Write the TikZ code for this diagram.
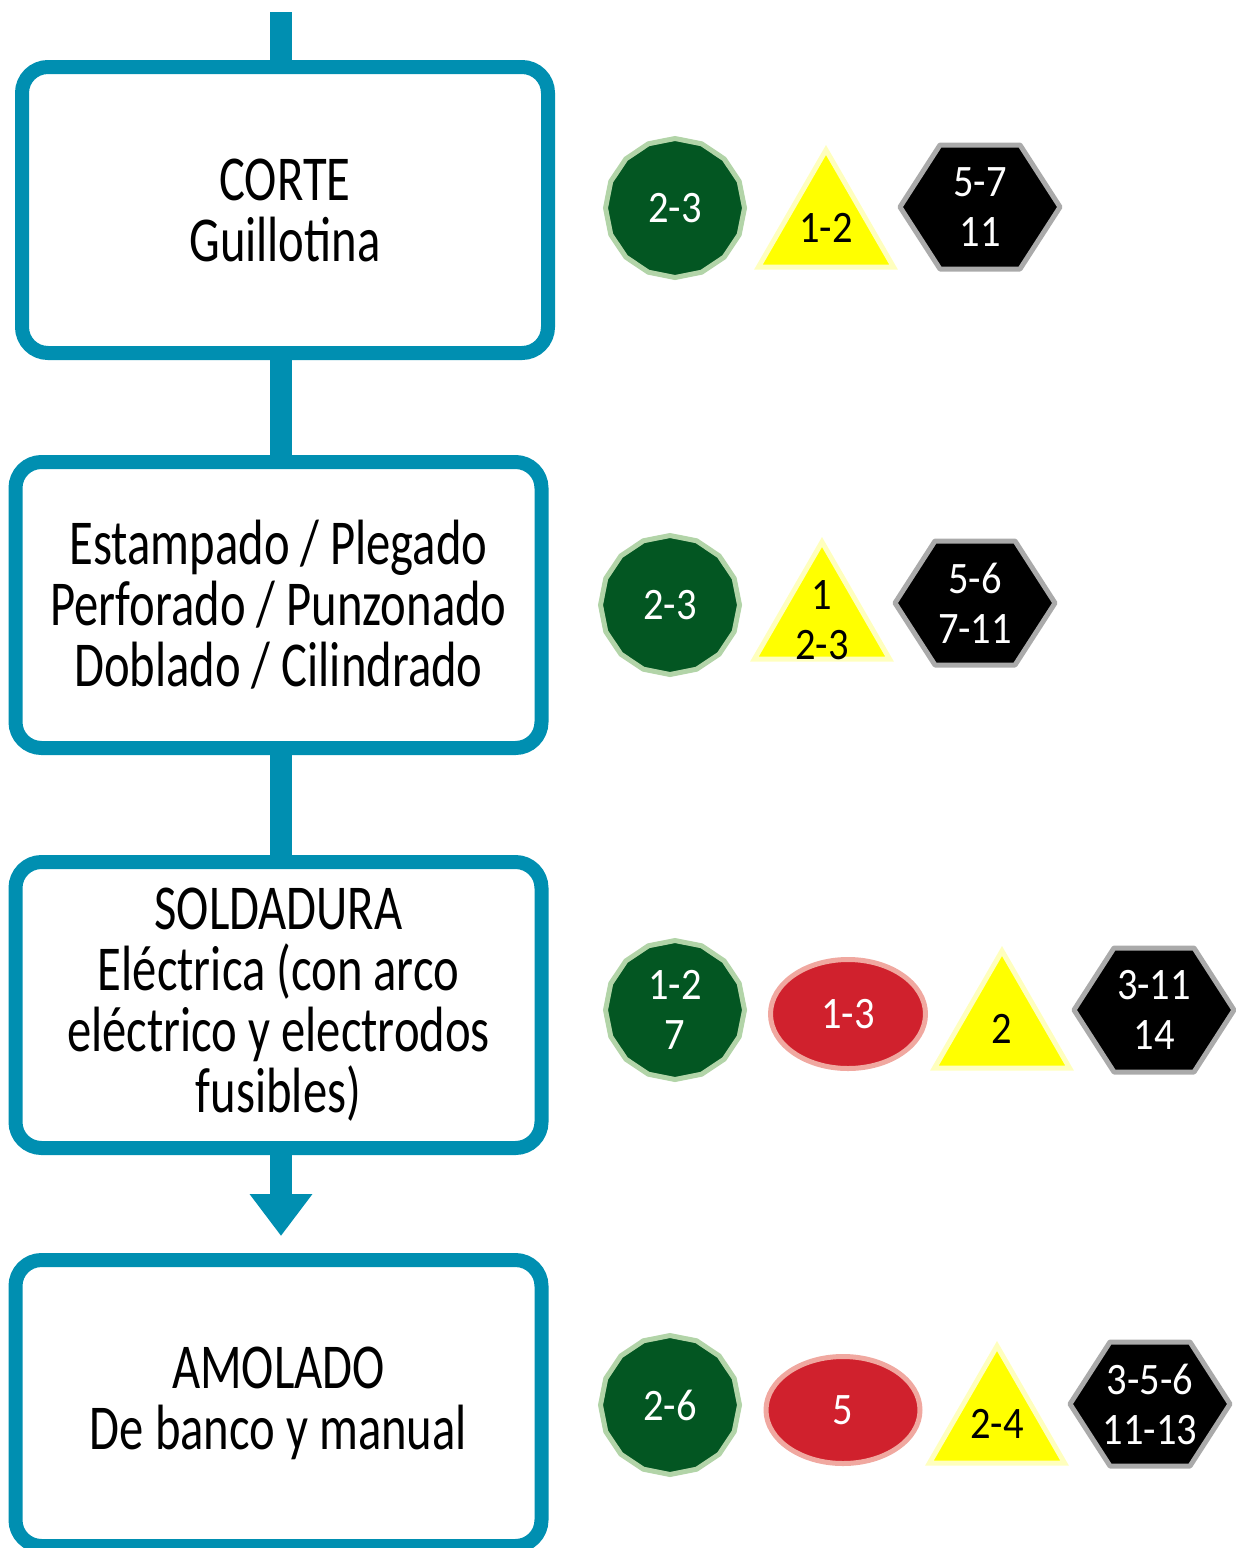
\documentclass[tikz,border=0pt]{standalone}
\usepackage{fontspec}
\setmainfont[FakeStretch=0.76]{Carlito}
\newfontfamily\badgefont[FakeStretch=0.9]{Carlito}
\usetikzlibrary{shapes.geometric,
                arrows.meta, calc}

\definecolor{flujo}{RGB}{0,143,177}
\definecolor{verde}{RGB}{3,86,34}
\definecolor{verdeclaro}{RGB}{178,212,168}
\definecolor{rojo}{RGB}{208,33,45}
\definecolor{rojoclaro}{RGB}{240,168,160}
\definecolor{amarillo}{RGB}{255,255,0}
\definecolor{amarilloclaro}{RGB}{255,255,190}
\definecolor{grisclaro}{RGB}{170,170,170}

\tikzset{
  stepbox/.style={draw=flujo, line width=14pt, rounded corners=26pt,
    minimum width=526pt, minimum height=286pt, inner sep=0pt,
    align=center, font=\fontsize{64}{61}\selectfont},
  link/.style={draw=flujo, line width=22pt},
  badge/.style={line width=5pt, inner sep=0pt},
  circ/.style={badge, regular polygon, regular polygon sides=16,
    shape border rotate=11.25, minimum size=139pt, fill=verde, draw=verdeclaro},
  oval/.style={badge, ellipse, fill=rojo, draw=rojoclaro},
  tri/.style={badge, regular polygon, regular polygon sides=3,
    minimum size=156pt, fill=amarillo, draw=amarilloclaro},
  hexa/.style={line width=5pt, fill=black, draw=grisclaro, line join=round},
  numw/.style={inner sep=0pt, align=center, text=white,
    font=\badgefont\fontsize{45}{50}\selectfont},
  numk/.style={numw, text=black},
}

\begin{document}
\begin{tikzpicture}[x=1pt, y=-1pt]
\useasboundingbox (0,0) rectangle (1235,1548);

% etapas del proceso
\node[stepbox] (corte) at (285,210) {CORTE\\Guillotina};
\node[stepbox] (plegado) at (278.5,605) {Estampado / Plegado\\Perforado / Punzonado\\Doblado / Cilindrado};
\node[stepbox] (soldadura) at (278.5,1005) {SOLDADURA\\Eléctrica (con arco\\eléctrico y electrodos\\fusibles)};
\node[stepbox] (amolado) at (278.5,1403) {AMOLADO\\De banco y manual};

% conectores
\coordinate (inicio) at (281,12);
\draw[link] (inicio) -- (inicio |- corte.north);
\draw[link] (corte.south -| inicio) -- (plegado.north -| inicio);
\draw[link] (plegado.south -| inicio) -- (soldadura.north -| inicio);
\draw[link, -{Triangle[length=42pt,width=60pt]}, shorten >=17pt] (soldadura.south -| inicio) -- (amolado.north -| inicio);

% verdes
\foreach \n/\cx/\cy/\txt in {a/675/208/2-3, b/670/605/2-3, c/675/1010/{1-2\\7}, d/670/1405/2-6}
  \node[circ] (v\n) at (\cx,\cy) {} node[numw] at (v\n) {\txt};

% rojos
\foreach \n/\cx/\cy/\w/\h/\txt in {c/848/1014/155/109/1-3, d/843/1410/154/107/5}
  \node[oval, minimum width=\w pt, minimum height=\h pt] (r\n) at (\cx,\cy) {} node[numw] at (r\n) {\txt};

% amarillos
\foreach \n/\cx/\cy/\txt in {a/826/228/1-2, b/822/620/{1\\2-3}, c/1002/1029/2, d/997/1424/2-4}
  \node[tri] (t\n) at (\cx,\cy) {} node[numk] at (t\n) {\txt};

% negros
\foreach \n/\cx/\cy/\txt in {a/980/207/{5-7\\11}, b/975/603/{5-6\\7-11}, c/1154/1010/{3-11\\14}, d/1150/1404/{3-5-6\\11-13}} {
  \coordinate (h\n) at (\cx,\cy);
  \filldraw[hexa] ($(h\n)+(-80,0)$) -- ++(40,-62) -- ++(80,0) -- ++(40,62) -- ++(-40,62) -- ++(-80,0) -- cycle;
  \node[numw] at (h\n) {\txt};
}
\end{tikzpicture}
\end{document}
